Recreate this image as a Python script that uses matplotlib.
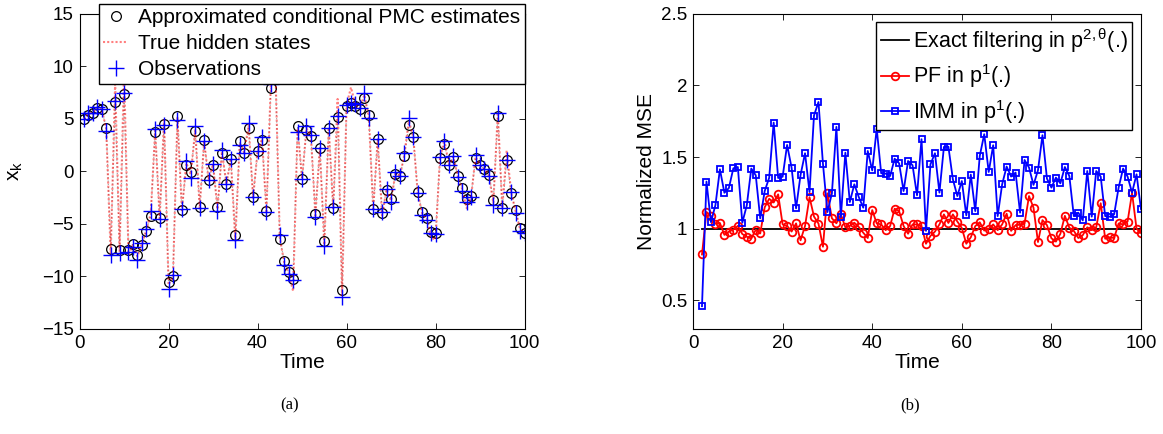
import numpy as np
import matplotlib
matplotlib.use("Agg")
import matplotlib.pyplot as plt

plt.rcParams['font.family'] = ['Liberation Sans', 'DejaVu Sans']
plt.rcParams['mathtext.fontset'] = 'custom'
plt.rcParams['mathtext.rm'] = 'Liberation Sans'
plt.rcParams['mathtext.it'] = 'Liberation Sans:italic'

# ---- panel (a): state estimates ----
time = np.arange(1, 101)
pmc_est = [5.0, 5.4, 5.6, 6.0, 5.9, 4.15, -7.4, 6.6, -7.5, 7.4,
           -7.5, -6.9, -8.0, -7.0, -5.7, -4.2, 3.8, -4.45, 4.5, -10.5,
           -10.0, 5.3, -3.7, 0.6, -0.1, 3.83, -3.4, 2.97, -0.8, 0.63,
           -3.4, 1.8, -1.17, 1.18, -6.06, 2.87, 1.75, 4.15, -2.46, 1.9,
           2.97, -3.72, 7.97, 9.6, -6.4, -8.5, -9.6, -10.2, 4.3, -0.74,
           3.97, 3.33, -4.05, 2.24, -6.6, 4.15, -3.5, 5.2, -11.27, 6.2,
           6.47, 6.27, 5.9, 7.0, 5.36, -3.6, 3.05, -3.93, -1.76, -2.62,
           -0.23, -0.4, 1.43, 4.46, 3.28, -2.0, -3.83, -4.47, -5.74, -5.9,
           1.27, 2.64, 0.63, 1.37, -0.4, -1.6, -2.66, -2.35, 1.27, 0.63,
           0.22, -0.32, -2.71, 5.27, -3.51, 1.11, -2.04, -3.7, -5.39, -5.87]
true_states = [5.0, 5.5, 5.6, 6.1, 5.9, 4.0, -7.9, 8.5, -7.6, 9.6,
               -7.9, -7.0, -8.1, -6.9, -5.6, -4.0, 3.9, -4.5, 4.9, -10.8,
               -10.0, 5.1, -3.7, 0.8, -0.3, 4.0, -3.5, 2.9, -0.8, 0.7,
               -3.6, 1.9, -1.2, 1.2, -6.6, 2.7, 1.8, 4.4, -2.5, 1.9,
               3.1, -3.8, 8.5, 10.0, -6.3, -8.7, -9.7, -11.4, 4.1, -0.7,
               4.1, 3.4, -4.2, 2.2, -7.0, 4.15, -3.5, 6.9, -11.8, 6.3,
               8.0, 6.3, 6.0, 7.3, 5.2, -3.6, 3.05, -4.2, -1.7, -2.8,
               -0.2, -0.4, 1.6, 4.8, 3.3, -2.1, -4.0, -4.5, -6.3, -6.5,
               1.3, 3.0, 0.6, 1.4, -0.5, -1.7, -3.5, -2.4, 1.4, 0.6,
               0.2, -0.4, -3.0, 5.6, -3.5, 2.0, -2.0, -3.8, -5.5, -5.9]
observations = [5.0, 5.6, 5.6, 6.1, 5.9, 3.83, -8.0, 6.7, -7.75, 7.5,
                -7.7, -7.2, -8.4, -6.8, -5.45, -3.77, 4.0, -4.5, 4.4, -11.2,
                -9.9, 4.94, -3.6, 1.0, -0.6, 4.3, -3.5, 2.9, -0.8, 0.7,
                -3.8, 2.0, -1.17, 1.18, -6.5, 2.55, 1.75, 4.6, -2.46, 1.95,
                3.3, -3.9, 8.3, 9.8, -6.1, -8.9, -9.8, -10.3, 3.8, -0.7,
                4.3, 3.5, -4.35, 2.2, -7.1, 4.15, -3.4, 5.3, -12.0, 6.3,
                6.5, 6.4, 6.05, 7.5, 5.1, -3.6, 3.05, -3.9, -1.7, -2.87,
                -0.1, -0.45, 1.75, 5.1, 3.3, -2.1, -4.15, -4.6, -5.9, -5.95,
                1.37, 2.87, 0.63, 1.43, -0.5, -1.86, -2.9, -2.4, 1.6, 0.63,
                0.22, -0.4, -3.2, 5.6, -3.5, 1.1, -2.0, -3.97, -5.7, -5.9]

# ---- panel (b): normalized MSE ----
time_mse = np.arange(2, 101)
pf_mse = [0.82, 1.117, 1.09, 1.035, 1.04, 0.957, 0.98, 0.993, 1.02,
          0.963, 0.944, 0.931, 0.993, 0.967, 1.15, 1.209, 1.183, 1.24, 1.03,
          1.02, 0.98, 1.037, 0.919, 1.019, 1.22, 1.085, 1.036, 0.874, 1.247,
          1.073, 1.038, 1.1, 1.01, 1.02, 1.042, 1.012, 0.972, 0.935, 1.13,
          1.037, 1.03, 0.99, 1.019, 1.14, 1.123, 1.019, 0.965, 1.03, 1.03,
          1.02, 0.895, 0.95, 0.98, 1.03, 1.1, 1.04, 1.1, 1.05, 1.005,
          0.895, 0.94, 1.018, 1.045, 0.987, 1.0, 1.03, 0.99, 1.03, 1.105,
          0.985, 1.025, 1.028, 1.035, 1.228, 1.147, 0.907, 1.06, 1.025, 0.933,
          0.91, 0.965, 1.09, 1.007, 0.985, 0.935, 0.955, 1.01, 0.99, 1.01,
          1.178, 0.93, 0.94, 0.935, 1.037, 1.03, 1.05, 1.25, 1.0, 0.97]
imm_mse = [0.459, 1.329, 1.046, 1.165, 1.415, 1.251, 1.284, 1.422, 1.431,
           1.042, 1.163, 1.42, 1.373, 1.072, 1.263, 1.356, 1.741, 1.354, 1.363,
           1.585, 1.426, 1.142, 1.375, 1.527, 1.256, 1.79, 1.885, 1.454, 1.116,
           1.247, 1.711, 1.081, 1.531, 1.186, 1.31, 1.221, 1.147, 1.543, 1.407,
           1.699, 1.387, 1.385, 1.368, 1.489, 1.457, 1.263, 1.473, 1.443, 1.233,
           1.625, 0.985, 1.45, 1.527, 1.252, 1.571, 1.573, 1.345, 1.228, 1.333,
           1.093, 1.378, 1.123, 1.508, 1.66, 1.396, 1.583, 1.088, 1.31, 1.434,
           1.364, 1.392, 1.112, 1.48, 1.427, 1.306, 1.408, 1.653, 1.35, 1.287,
           1.357, 1.317, 1.431, 1.368, 1.088, 1.112, 1.058, 1.403, 1.084, 1.403,
           1.364, 1.088, 1.084, 1.1, 1.287, 1.42, 1.364, 1.252, 1.38, 1.135]
exact_mse = np.full(len(time_mse), 1.0)

fig = plt.figure(figsize=(11.63, 4.34), dpi=100)
ax1 = fig.add_axes([0.0684, 0.242, 0.3826, 0.726])
ax2 = fig.add_axes([0.5959, 0.242, 0.3852, 0.726])

# faint dotted trace between successive estimates
ax1.plot(time, pmc_est, color='0.35', ls=(0, (1, 2)), lw=0.8, alpha=0.6)
ax1.plot(time, pmc_est, 'o', color='k', mfc='none', ms=7, mew=0.9,
         label='Approximated conditional PMC estimates')
ax1.plot(time, true_states, color='r', ls=(0, (1, 1)), lw=1.5, alpha=0.5,
         label='True hidden states')
ax1.plot(time, observations, '+', color='b', ms=11, mew=1.0, label='Observations')
ax1.set_xlim(0, 100)
ax1.set_ylim(-15, 15)
ax1.set_xticks(range(0, 101, 20))
ax1.set_yticks(range(-15, 16, 5))
ax1.set_xlabel('Time', fontsize=15, labelpad=1)
ax1.set_ylabel(r'x$_\mathrm{k}$', fontsize=15, labelpad=12)
ax1.legend(loc='upper right', bbox_to_anchor=(1.0, 1.032), borderaxespad=0,
           fontsize=15, fancybox=False, framealpha=1, edgecolor='k',
           handlelength=1.2, handletextpad=0.45, labelspacing=0.33, borderpad=0.22)

ax2.plot(time_mse, exact_mse, color='k', lw=1.3, label=r'Exact filtering in p$^{2,\mathrm{θ}}$(.)')
ax2.plot(time_mse, pf_mse, '-o', color='r', lw=1.3, ms=5.5, mfc='none', mew=1.3,
         label=r'PF in p$^{1}$(.)')
ax2.plot(time_mse, imm_mse, '-s', color='b', lw=1.3, ms=4.5, mfc='none', mew=1.3,
         label=r'IMM in p$^{1}$(.)')
ax2.set_xlim(0, 100)
ax2.set_ylim(0.3, 2.5)
ax2.set_xticks(range(0, 101, 20))
ax2.set_yticks([0.5, 1, 1.5, 2, 2.5])
ax2.set_yticklabels(['0.5', '1', '1.5', '2', '2.5'])
ax2.set_xlabel('Time', fontsize=15, labelpad=1)
ax2.set_ylabel('Normalized MSE', fontsize=15, labelpad=4)
ax2.legend(loc='upper right', bbox_to_anchor=(0.98, 0.975), borderaxespad=0,
           fontsize=15.5, fancybox=False, framealpha=1, edgecolor='k',
           handlelength=1.3, handletextpad=0.2, labelspacing=0.35, borderpad=0.2)

for ax in (ax1, ax2):
    ax.tick_params(direction='in', top=True, right=True, length=4, width=0.6,
                   labelsize=13.5, pad=4)
    for s in ax.spines.values():
        s.set_linewidth(0.8)

fig.text(290 / 1163, 1 - 405 / 434, '(a)', family='Liberation Serif',
         fontsize=12, ha='center', va='center')
fig.text(910 / 1163, 1 - 405 / 434, '(b)', family='Liberation Serif',
         fontsize=12, ha='center', va='center')

fig.savefig('out.png', dpi=100)
